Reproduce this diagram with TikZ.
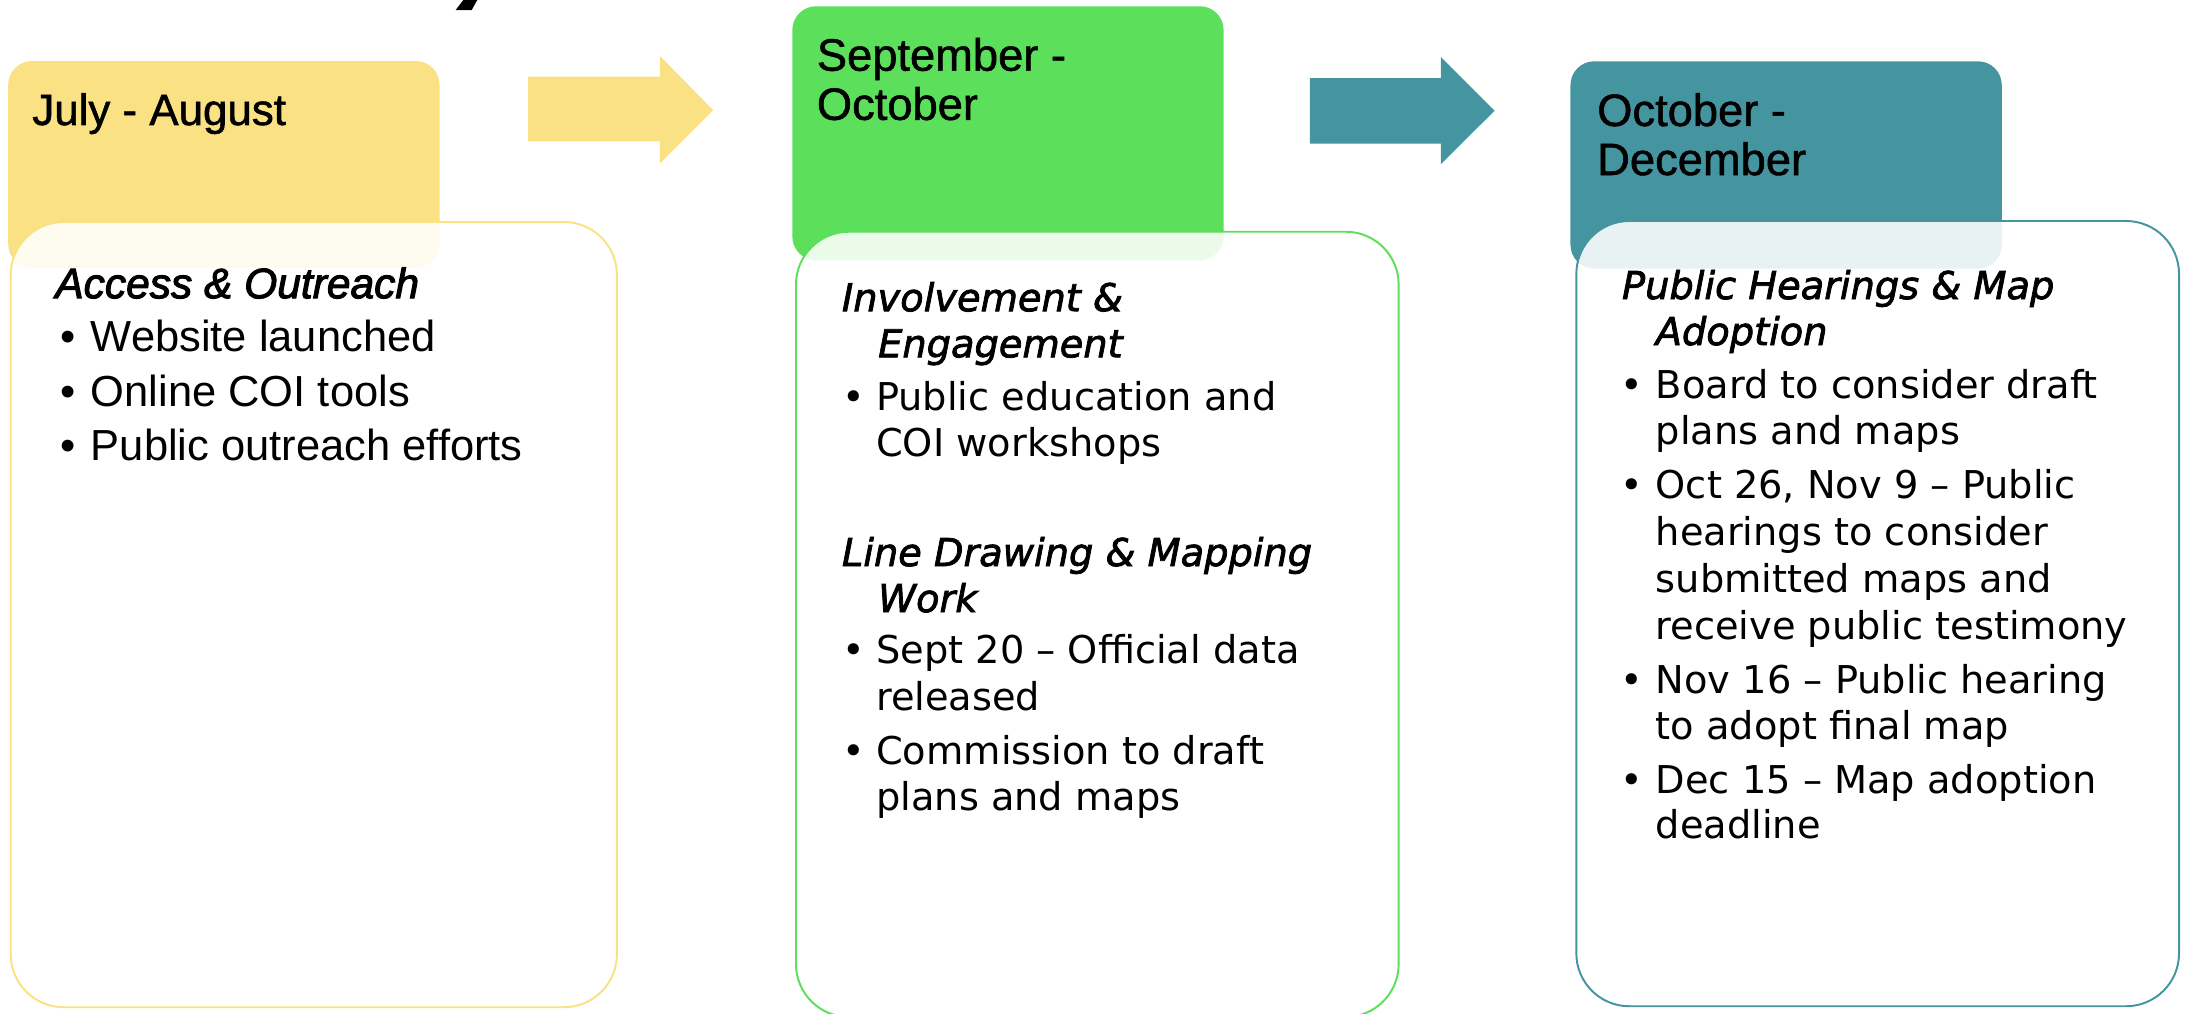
\documentclass[tikz,border=0pt]{standalone}
\usepackage{fontspec}
\setmainfont{Liberation Sans}
\newfontfamily\hdrfont[FakeBold=1.2]{Liberation Sans}
\newfontfamily\yfont{Liberation Sans}
\newfontfamily\ysubfont[FakeBold=2.4]{Liberation Sans}
\newfontfamily\bdyfont{DejaVu Sans}
\newfontfamily\subfont[FakeBold=2.0]{DejaVu Sans}
\definecolor{cYel}{HTML}{FAE183}
\definecolor{cGrn}{HTML}{5CDF5A}
\definecolor{cTeal}{HTML}{4595A0}
\begin{document}
\begin{tikzpicture}[x=1pt,y=-1pt,
  hdrbox/.style={anchor=north west, inner sep=0pt, rounded corners=17pt,
    minimum width=309.5pt, minimum height=148.5pt},
  bodybox/.style={anchor=north west, inner sep=0pt, rounded corners=38pt,
    minimum width=434pt, minimum height=563.5pt, fill=white, fill opacity=0.88,
    line width=1.4pt},
  ln/.style={anchor=base west, inner sep=0pt, text=black},
  hdrtxt/.style={ln, font=\hdrfont\fontsize{32.5}{39}\selectfont},
  ytxt/.style={ln, font=\yfont\fontsize{31.2}{36}\selectfont},
  ysub/.style={ln, font=\ysubfont\itshape\fontsize{30.5}{36}\selectfont},
  btxt/.style={ln, font=\bdyfont\fontsize{27.5}{33}\selectfont},
  bsub/.style={ln, font=\subfont\itshape\fontsize{27.5}{33}\selectfont},
  arrowshape/.style={draw=none}
]
\useasboundingbox (0,0) rectangle (1568,727);
\clip (0,0) rectangle (1568,727);

% fragment of cut-off title glyph
\fill[black] (332.5,0) -- (342.5,0) -- (338.5,7.2) -- (327,7.2) -- cycle;

% headers
\node[hdrbox, fill=cYel, minimum height=148.4pt] (hA) at (5.7,43.6) {};
\node[hdrbox, fill=cGrn, minimum height=182.3pt] (hB) at (568.4,4.3) {};
\node[hdrbox, fill=cTeal, minimum height=148.7pt] (hC) at (1126.8,43.8) {};

% arrows
\fill[cYel, arrowshape] (379,55) -- (473.6,55) -- (473.6,40.2) -- (511.8,79)
  -- (473.6,117.2) -- (473.6,101.5) -- (379,101.5) -- cycle;
\fill[cTeal, arrowshape] (940,56) -- (1034,56) -- (1034,41) -- (1072.5,79.5)
  -- (1034,117.8) -- (1034,103) -- (940,103) -- cycle;

% bodies
\node[bodybox, draw=cYel, minimum width=435pt] (bA) at (7,158.6) {};
\node[bodybox, draw=cGrn, minimum width=432.5pt] (bB) at (570.5,165.6) {};
\node[bodybox, draw=cTeal, minimum width=432.5pt] (bC) at (1130.5,157.9) {};

% header texts
\node[ln, font=\hdrfont\fontsize{31.5}{38}\selectfont] (tA) at (23,89.7) {July - August};
\node[hdrtxt] (tB1) at (586,50.7) {September -};
\node[hdrtxt] (tB2) at (586,86) {October};
\node[hdrtxt] (tC1) at (1146,90.4) {October -};
\node[hdrtxt] (tC2) at (1146,125.6) {December};

% yellow body
\node[ysub] (sA) at (39.5,214) {Access \& Outreach};
\node[ytxt] (ya1) at (43.5,252.4) {•};
\node[ytxt] (yt1) at (65,252.4) {Website launched};
\node[ytxt] (ya2) at (43.5,291.4) {•};
\node[ytxt] (yt2) at (65,291.4) {Online COI tools};
\node[ytxt] (ya3) at (43.5,330.4) {•};
\node[ytxt] (yt3) at (65,330.4) {Public outreach efforts};

% green body
\node[bsub] (sB1) at (604,223.3) {Involvement \&};
\node[bsub] (sB1b) at (630,256.4) {Engagement};
\node[btxt] (ga1) at (604.6,294.8) {•};
\node[btxt] (gt1) at (628.6,294.8) {Public education and};
\node[btxt] (gt1b) at (628.6,327.5) {COI workshops};
\node[bsub] (sB2) at (604,406.2) {Line Drawing \& Mapping};
\node[bsub] (sB2b) at (630,439.2) {Work};
\node[btxt] (ga2) at (604.6,476.4) {•};
\node[btxt] (gt2) at (628.6,476.4) {Sept 20 – Official data};
\node[btxt] (gt2b) at (628.6,509.8) {released};
\node[btxt] (ga3) at (604.6,548.4) {•};
\node[btxt] (gt3) at (628.6,548.4) {Commission to draft};
\node[btxt] (gt3b) at (628.6,581.8) {plans and maps};

% teal body
\node[bsub] (sC1) at (1163.8,214.6) {Public Hearings \& Map};
\node[bsub] (sC1b) at (1188,247.6) {Adoption};
\node[btxt] (ta1) at (1163,286) {•};
\node[btxt] (tt1) at (1188,286) {Board to consider draft};
\node[btxt] (tt1b) at (1188,319) {plans and maps};
\node[btxt] (ta2) at (1163,357.5) {•};
\node[btxt] (tt2) at (1188,357.5) {Oct 26, Nov 9 – Public};
\node[btxt] (tt2b) at (1188,391.8) {hearings to consider};
\node[btxt] (tt2c) at (1188,425.4) {submitted maps and};
\node[btxt] (tt2d) at (1188,459) {receive public testimony};
\node[btxt] (ta3) at (1163,497.5) {•};
\node[btxt] (tt3) at (1188,497.5) {Nov 16 – Public hearing};
\node[btxt] (tt3b) at (1188,531) {to adopt final map};
\node[btxt] (ta4) at (1163,569.6) {•};
\node[btxt] (tt4) at (1188,569.6) {Dec 15 – Map adoption};
\node[btxt] (tt4b) at (1188,601.6) {deadline};
\end{tikzpicture}
\end{document}
